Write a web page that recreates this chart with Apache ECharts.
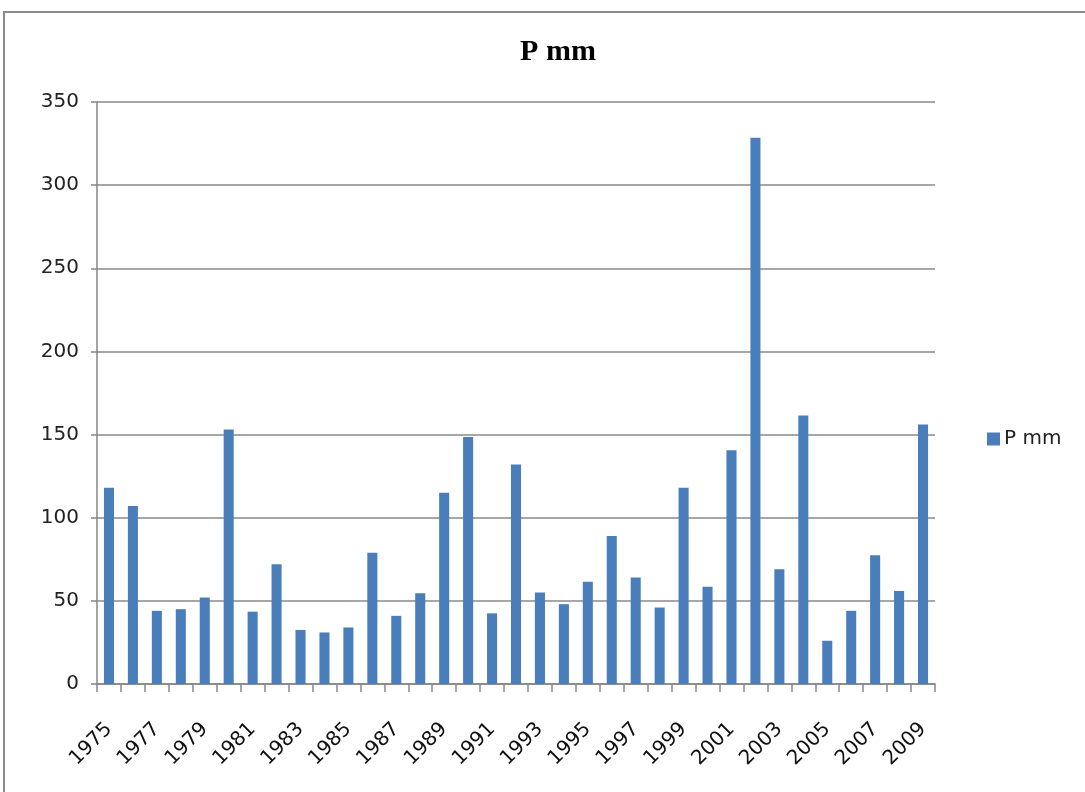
<!DOCTYPE html>
<html>
<head>
<meta charset="utf-8">
<script src="https://cdn.jsdelivr.net/npm/echarts@6/dist/echarts.min.js"></script>
<style>
  html, body { margin: 0; padding: 0; background: #ffffff; }
  #chart { width: 1085px; height: 792px; }
</style>
</head>
<body>
<div id="chart"></div>
<script>
// Annual precipitation, 1975–2009
const years = [
  '1975','1976','1977','1978','1979','1980','1981','1982','1983','1984',
  '1985','1986','1987','1988','1989','1990','1991','1992','1993','1994',
  '1995','1996','1997','1998','1999','2000','2001','2002','2003','2004',
  '2005','2006','2007','2008','2009'
];
const precipitation = [
  118, 107, 44, 45, 52, 153, 43.5, 72, 32.5, 31,
  34, 79, 41, 54.5, 115, 148.5, 42.5, 132, 55, 48,
  61.5, 89, 64, 46, 118, 58.5, 140.5, 328.5, 69, 161.5,
  26, 44, 77.5, 56, 156
];
const seriesName = 'P mm';
const yTicks = { min: 0, max: 350, interval: 50 };

const chart = echarts.init(document.getElementById('chart'), null, { renderer: 'canvas' });

const labelFont = 'DejaVu Sans, Verdana, sans-serif';
const axisGrey = '#868686';

chart.setOption({
  animation: false,
  backgroundColor: '#ffffff',
  graphic: [{
    type: 'polyline',
    shape: { points: [[4, 800], [4, 12], [1090, 12]] },
    style: { stroke: '#8c8c8c', lineWidth: 2, fill: null },
    silent: true
  }],
  title: {
    text: seriesName,
    left: 553,
    top: 32,
    textAlign: 'center',
    textStyle: {
      fontFamily: 'Liberation Serif, Times New Roman, serif',
      fontWeight: 'bold',
      fontSize: 30,
      color: '#000000'
    }
  },
  legend: {
    data: [seriesName],
    orient: 'vertical',
    left: 987,
    top: 429,
    padding: 0,
    itemWidth: 13,
    itemHeight: 13,
    itemGap: 6,
    icon: 'rect',
    textStyle: { fontFamily: labelFont, fontSize: 20, color: '#222222', padding: [0, 0, 0, -1] }
  },
  grid: {
    left: 97,
    right: 1085 - 935,
    top: 102,
    bottom: 792 - 684,
    containLabel: false
  },
  xAxis: {
    type: 'category',
    data: years,
    boundaryGap: true,
    axisLine: { show: true, lineStyle: { color: axisGrey, width: 1.5 } },
    axisTick: { show: true, alignWithLabel: false, interval: 0, length: 8, lineStyle: { color: axisGrey, width: 1.5 } },
    axisLabel: {
      interval: 1,
      rotate: 45,
      margin: 42,
      fontFamily: labelFont,
      fontSize: 20,
      color: '#111111',
      padding: [0, 0, 0, 0]
    },
    splitLine: { show: false }
  },
  yAxis: {
    type: 'value',
    min: yTicks.min,
    max: yTicks.max,
    interval: yTicks.interval,
    axisLine: { show: true, lineStyle: { color: axisGrey, width: 1.5 } },
    axisTick: { show: true, length: 6, lineStyle: { color: axisGrey, width: 1.5 } },
    axisLabel: {
      margin: 18,
      fontFamily: labelFont,
      fontSize: 20,
      color: '#222222'
    },
    splitLine: { show: true, lineStyle: { color: '#8a8a8a', width: 1.5 } }
  },
  series: [{
    name: seriesName,
    type: 'bar',
    data: precipitation,
    barWidth: '42%',
    itemStyle: { color: '#4a7ebb' }
  }]
});
</script>
</body>
</html>
